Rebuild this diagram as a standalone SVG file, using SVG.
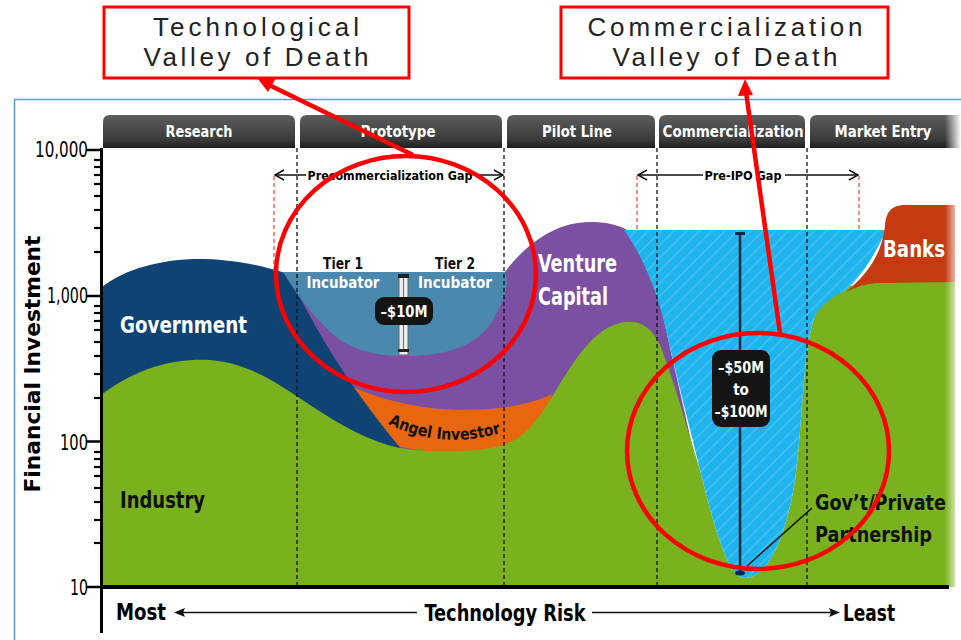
<svg xmlns="http://www.w3.org/2000/svg" width="961" height="640" viewBox="0 0 961 640">
<style>
.b{font-family:"DejaVu Sans Condensed","DejaVu Sans","Liberation Sans",sans-serif;font-weight:bold;font-stretch:condensed}
.n{font-family:"DejaVu Sans Condensed","DejaVu Sans","Liberation Sans",sans-serif;font-weight:normal;font-stretch:condensed}
.tab{fill:url(#tabg)}
.tabt{fill:#fff;font-size:16px;text-anchor:middle}
.vd{stroke:#111;stroke-width:1.3;stroke-dasharray:4 3;fill:none}
.rd{stroke:#e8503a;stroke-width:1.3;stroke-dasharray:4 3;fill:none}
.red{stroke:#f00;fill:none;stroke-width:4.5}
.call{fill:#fff;stroke:#f00;stroke-width:3}
.callt{font-family:"Liberation Sans","DejaVu Sans",sans-serif;font-size:26px;fill:#222;text-anchor:middle}
.tick{stroke:#000;stroke-width:2.5}
</style>
<defs>
<linearGradient id="tabg" x1="0" y1="0" x2="0" y2="1">
<stop offset="0" stop-color="#5d5d5d"/>
<stop offset="0.75" stop-color="#3a3a3a"/>
<stop offset="1" stop-color="#1e1e1e"/>
</linearGradient>
<linearGradient id="fade" x1="0" y1="0" x2="1" y2="0">
<stop offset="0" stop-color="#fff" stop-opacity="0"/>
<stop offset="1" stop-color="#fff" stop-opacity="1"/>
</linearGradient>
<pattern id="hatch" patternUnits="userSpaceOnUse" width="9" height="9" patternTransform="rotate(45)">
<rect width="9" height="9" fill="#1fb4ee"/>
<line x1="0" y1="0" x2="0" y2="9" stroke="#45c2f2" stroke-width="3"/>
</pattern>
</defs>

<rect width="961" height="640" fill="#fff"/>
<!-- frame -->
<path d="M14.5,640 L14.5,99.5 L961,99.5" fill="none" stroke="#5b9bd5" stroke-width="1.5"/>

<!-- areas -->
<g id="areas">
<path id="purple" d="M283,272 L505,272 C525,245 555,222 590,222 C620,222 640,232 648,255 C656,280 664,320 675,370 L700,480 L600,480 L400,460 L330,380 Z" fill="#7b4fa1"/>
<path id="angel" d="M335,378 C365,395 400,404 430,408 C470,412 520,410 552,394 L545,425 C530,442 500,453 460,453 C430,453 400,449 380,440 Z" fill="#e8660f"/>
<path id="gov" d="M101,288 C125,268 165,258 205,259 C240,260 270,268 285,273 L300,298 C315,325 340,375 402,450 L101,450 Z" fill="#0f4374"/>
<path id="incub" d="M283,272 L505,272 C510,285 505,300 490,325 C470,350 440,356 403,356 C375,356 355,350 340,340 C320,325 300,300 283,272 Z" fill="#4b88ad"/>
<path id="industry" d="M101,395 C140,365 180,358 210,360 C250,363 280,385 310,405 C340,425 370,442 400,448 C430,453 470,453 500,446 C520,441 535,425 550,400 C570,368 590,330 620,323 C640,318 652,328 660,345 C672,375 685,420 700,470 C715,530 728,578 745,578 C765,578 785,545 795,480 C802,430 803,360 812,325 C820,295 840,285 870,283 L955,282 L955,587 L101,587 Z" fill="#79b11f"/>
<path id="gpp" d="M624,230 L887,230 C876,250 866,272 846,290 C826,300 815,310 812,325 C803,360 802,430 795,480 C785,545 765,578 745,578 C728,578 715,530 700,470 C688,420 676,375 666,330 C658,295 645,260 624,230 Z" fill="url(#hatch)"/>
<path id="banks" d="M955,205 L906,205 C891,205 886,212 885,226 C882,252 870,272 846,292 L955,292 Z" fill="#c53a10"/>
<path id="greenR" d="M846,292 C860,285 870,283 880,283 L955,282 L955,300 L840,300 Z" fill="#79b11f"/>
</g>

<!-- header tabs -->
<g id="tabs">
<g id="tab-research"><path class="tab" d="M103,148 L103,122 Q103,115 110,115 L288,115 Q295,115 295,122 L295,148 Z"/><text class="b tabt" x="199" y="137" textLength="67" lengthAdjust="spacingAndGlyphs">Research</text></g>
<g id="tab-prototype"><path class="tab" d="M300,148 L300,122 Q300,115 307,115 L495,115 Q502,115 502,122 L502,148 Z"/><text class="b tabt" x="398" y="137" textLength="75" lengthAdjust="spacingAndGlyphs">Prototype</text></g>
<g id="tab-pilot"><path class="tab" d="M507,148 L507,122 Q507,115 514,115 L648,115 Q655,115 655,122 L655,148 Z"/><text class="b tabt" x="577" y="137" textLength="70" lengthAdjust="spacingAndGlyphs">Pilot Line</text></g>
<g id="tab-comm"><path class="tab" d="M659,148 L659,122 Q659,115 666,115 L798,115 Q805,115 805,122 L805,148 Z"/><text class="b tabt" x="733" y="137" textLength="141" lengthAdjust="spacingAndGlyphs">Commercialization</text></g>
<g id="tab-market"><path class="tab" d="M810,148 L810,122 Q810,115 817,115 L961,115 L961,148 Z"/><text class="b tabt" x="883" y="137" textLength="97" lengthAdjust="spacingAndGlyphs">Market Entry</text></g>
</g>

<!-- right fade -->
<rect x="945" y="105" width="16" height="490" fill="url(#fade)"/>

<!-- dashed lines -->
<g id="dashes">
<line class="vd" x1="297" y1="148" x2="297" y2="587"/>
<line class="vd" x1="504" y1="148" x2="504" y2="587"/>
<line class="vd" x1="657" y1="148" x2="657" y2="587"/>
<line class="vd" x1="807" y1="148" x2="807" y2="587"/>
<line class="rd" x1="274" y1="176" x2="274" y2="272"/>
<line class="rd" x1="637" y1="176" x2="637" y2="229"/>
<line class="rd" x1="859" y1="176" x2="859" y2="229"/>
</g>

<!-- gap arrows -->
<g id="gaps" stroke="#111" stroke-width="1.5" fill="none">
<line x1="276" y1="175" x2="306" y2="175"/>
<path d="M284,170 L275,175 L284,180"/>
<line x1="476" y1="175" x2="502" y2="175"/>
<path d="M494,170 L503,175 L494,180"/>
<line x1="639" y1="175" x2="703" y2="175"/>
<path d="M647,170 L638,175 L647,180"/>
<line x1="785" y1="175" x2="857" y2="175"/>
<path d="M849,170 L858,175 L849,180"/>
</g>
<text class="b" x="390" y="180" font-size="13" text-anchor="middle" textLength="165" lengthAdjust="spacingAndGlyphs">Precommercialization Gap</text>
<text class="b" x="743" y="180" font-size="13" text-anchor="middle" textLength="77" lengthAdjust="spacingAndGlyphs">Pre-IPO Gap</text>

<!-- incubator bar -->
<g id="bar10">
<rect x="399" y="276" width="9" height="79" fill="#eee" stroke="#666" stroke-width="1"/>
<line x1="403.5" y1="278" x2="403.5" y2="352" stroke="#777" stroke-width="1.2"/>
<rect x="398" y="274" width="11" height="4" fill="#222"/>
<rect x="398" y="349" width="11" height="3" fill="#222"/>
<rect x="375" y="297" width="58" height="28" rx="9" fill="#141414"/>
<text class="b" x="404" y="317" font-size="15" fill="#fff" text-anchor="middle" textLength="47" lengthAdjust="spacingAndGlyphs">–$10M</text>
</g>

<!-- gap bar in cyan -->
<g id="bar50">
<line x1="740" y1="233" x2="740" y2="574" stroke="#14263a" stroke-width="2.5"/>
<line x1="735" y1="233.5" x2="745" y2="233.5" stroke="#14263a" stroke-width="3"/>
<ellipse cx="740" cy="573" rx="5" ry="2.5" fill="#14263a"/>
<rect x="712" y="350" width="58" height="77" rx="9" fill="#141414"/>
<text class="b" x="741" y="373" font-size="15" fill="#fff" text-anchor="middle" textLength="46" lengthAdjust="spacingAndGlyphs">–$50M</text>
<text class="b" x="741" y="395" font-size="15" fill="#fff" text-anchor="middle">to</text>
<text class="b" x="741" y="417" font-size="15" fill="#fff" text-anchor="middle" textLength="53" lengthAdjust="spacingAndGlyphs">–$100M</text>
</g>

<!-- area labels -->
<g id="labels">
<text class="b" x="120" y="333" font-size="23" fill="#fff" textLength="127" lengthAdjust="spacingAndGlyphs">Government</text>
<text class="b" x="120" y="508" font-size="23" fill="#111" textLength="85" lengthAdjust="spacingAndGlyphs">Industry</text>
<text class="b" x="538" y="272" font-size="24" fill="#fff" textLength="79" lengthAdjust="spacingAndGlyphs">Venture</text>
<text class="b" x="538" y="305" font-size="24" fill="#fff" textLength="70" lengthAdjust="spacingAndGlyphs">Capital</text>
<text class="b" x="883" y="257" font-size="23" fill="#fff" textLength="62" lengthAdjust="spacingAndGlyphs">Banks</text>
<text class="b" x="343" y="269" font-size="15" fill="#111" text-anchor="middle" textLength="40" lengthAdjust="spacingAndGlyphs">Tier 1</text>
<text class="b" x="343" y="288" font-size="15" fill="#fff" text-anchor="middle" textLength="73" lengthAdjust="spacingAndGlyphs">Incubator</text>
<text class="b" x="455" y="269" font-size="15" fill="#111" text-anchor="middle" textLength="40" lengthAdjust="spacingAndGlyphs">Tier 2</text>
<text class="b" x="455" y="288" font-size="15" fill="#fff" text-anchor="middle" textLength="74" lengthAdjust="spacingAndGlyphs">Incubator</text>
<path id="angelArc" d="M388,424 Q446,452 510,430" fill="none"/>
<text class="b" font-size="16" fill="#111"><textPath href="#angelArc" textLength="116" lengthAdjust="spacingAndGlyphs">Angel Investor</textPath></text>
<text class="b" x="815" y="510" font-size="22" fill="#111" textLength="131" lengthAdjust="spacingAndGlyphs">Gov’t/Private</text>
<text class="b" x="815" y="542" font-size="22" fill="#111" textLength="117" lengthAdjust="spacingAndGlyphs">Partnership</text>
<line x1="747" y1="566" x2="812" y2="508" stroke="#111" stroke-width="1.5"/>
</g>

<!-- axes -->
<g id="axes">
<line x1="101.5" y1="148" x2="101.5" y2="633" stroke="#000" stroke-width="3"/>
<line x1="100" y1="587" x2="949" y2="587" stroke="#000" stroke-width="4"/>
<g class="tick">
<line x1="86" y1="150" x2="101" y2="150"/>
<line x1="86" y1="296" x2="101" y2="296"/>
<line x1="86" y1="441.5" x2="101" y2="441.5"/>
<line x1="86" y1="587" x2="101" y2="587"/>
</g>
<g stroke="#000" stroke-width="2.2">
<line x1="94" y1="160" x2="101" y2="160"/><line x1="94" y1="167" x2="101" y2="167"/><line x1="94" y1="175" x2="101" y2="175"/><line x1="94" y1="184" x2="101" y2="184"/><line x1="94" y1="196" x2="101" y2="196"/><line x1="94" y1="210" x2="101" y2="210"/><line x1="94" y1="228" x2="101" y2="228"/><line x1="94" y1="252" x2="101" y2="252"/>
<line x1="94" y1="306" x2="101" y2="306"/><line x1="94" y1="313" x2="101" y2="313"/><line x1="94" y1="321" x2="101" y2="321"/><line x1="94" y1="330" x2="101" y2="330"/><line x1="94" y1="342" x2="101" y2="342"/><line x1="94" y1="356" x2="101" y2="356"/><line x1="94" y1="374" x2="101" y2="374"/><line x1="94" y1="398" x2="101" y2="398"/>
<line x1="94" y1="452" x2="101" y2="452"/><line x1="94" y1="459" x2="101" y2="459"/><line x1="94" y1="467" x2="101" y2="467"/><line x1="94" y1="476" x2="101" y2="476"/><line x1="94" y1="488" x2="101" y2="488"/><line x1="94" y1="502" x2="101" y2="502"/><line x1="94" y1="520" x2="101" y2="520"/><line x1="94" y1="543" x2="101" y2="543"/>
</g>
<text class="n" x="88" y="157" font-size="21" text-anchor="end" textLength="53" lengthAdjust="spacingAndGlyphs">10,000</text>
<text class="n" x="88" y="303" font-size="21" text-anchor="end" textLength="41" lengthAdjust="spacingAndGlyphs">1,000</text>
<text class="n" x="88" y="450" font-size="21" text-anchor="end" textLength="28" lengthAdjust="spacingAndGlyphs">100</text>
<text class="n" x="88" y="595" font-size="21" text-anchor="end" textLength="18" lengthAdjust="spacingAndGlyphs">10</text>
<text class="b" transform="translate(40,364) rotate(-90)" font-size="21" text-anchor="middle" textLength="257" lengthAdjust="spacingAndGlyphs">Financial Investment</text>
<text class="b" x="116" y="620" font-size="23" textLength="50" lengthAdjust="spacingAndGlyphs">Most</text>
<text class="b" x="505" y="621" font-size="23" text-anchor="middle" textLength="161" lengthAdjust="spacingAndGlyphs">Technology Risk</text>
<text class="b" x="843" y="621" font-size="23" textLength="52" lengthAdjust="spacingAndGlyphs">Least</text>
<line x1="180" y1="612.5" x2="417" y2="612.5" stroke="#111" stroke-width="1.5"/>
<path d="M174,612.5 L185,608 L183,612.5 L185,617 Z" fill="#111"/>
<line x1="592" y1="612.5" x2="832" y2="612.5" stroke="#111" stroke-width="1.5"/>
<path d="M840,612.5 L829,608 L831,612.5 L829,617 Z" fill="#111"/>
</g>

<!-- callout boxes -->
<g id="callout-tech">
<rect class="call" x="104" y="7" width="305" height="71"/>
<text class="callt" x="256" y="36" textLength="206" lengthAdjust="spacing">Technological</text>
<text class="callt" x="256" y="66" textLength="225" lengthAdjust="spacing">Valley of Death</text>
</g>
<g id="callout-comm">
<rect class="call" x="561" y="7" width="327" height="71"/>
<text class="callt" x="725" y="36" textLength="275" lengthAdjust="spacing">Commercialization</text>
<text class="callt" x="725" y="66" textLength="225" lengthAdjust="spacing">Valley of Death</text>
</g>

<!-- connectors -->
<g id="connectors">
<ellipse class="red" cx="406" cy="274" rx="130" ry="118"/>
<ellipse class="red" cx="758" cy="451" rx="131" ry="118"/>
<line x1="413" y1="155" x2="267" y2="84" stroke="#f00" stroke-width="4.5"/>
<path d="M258,79 L276,78 L268,92 Z" fill="#f00"/>
<line x1="780" y1="333" x2="746" y2="92" stroke="#f00" stroke-width="4.5"/>
<path d="M745,79 L753,95 L738,96 Z" fill="#f00"/>
</g>
</svg>
